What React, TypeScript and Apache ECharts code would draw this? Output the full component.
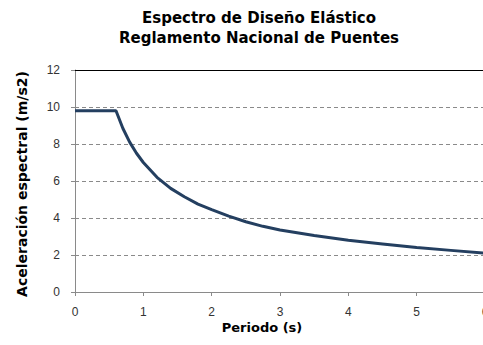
import React, { useEffect, useRef } from "react";
import * as echarts from "echarts";

const periods = [0, 0.6, 0.7, 0.8, 0.9, 1.0, 1.2, 1.4, 1.6, 1.8, 2.0, 2.25, 2.5, 2.75, 3.0, 3.5, 4.0, 4.5, 5.0, 5.5, 6.0];
const accel = [9.8, 9.8, 8.85, 8.1, 7.5, 7.0, 6.2, 5.6, 5.15, 4.75, 4.45, 4.1, 3.8, 3.55, 3.35, 3.05, 2.8, 2.6, 2.4, 2.25, 2.1];
const titleLines = ["Espectro de Diseño Elástico", "Reglamento Nacional de Puentes"];
const xName = "Periodo (s)";
const yName = "Aceleración espectral (m/s2)";

export default function App() {
  const ref = useRef<HTMLDivElement>(null);
  useEffect(() => {
    if (!ref.current) return;
    const chart = echarts.init(ref.current, null, { renderer: "svg" });
    const font = "'Liberation Sans', Arial, sans-serif";
    const wide = "'DejaVu Sans', sans-serif";
    chart.setOption({
      animation: false,
      backgroundColor: "#ffffff",
      grid: { left: 75, top: 70, right: -2, bottom: 53, outerBoundsMode: "none", containLabel: false },
      graphic: [
        {
          type: "text",
          x: 259,
          y: 18,
          style: {
            text: titleLines[0],
            font: `bold 15px ${wide}`,
            fill: "#000",
            align: "center",
            verticalAlign: "middle",
          },
        },
        {
          type: "text",
          x: 259,
          y: 38,
          style: {
            text: titleLines[1],
            font: `bold 15px ${wide}`,
            fill: "#000",
            align: "center",
            verticalAlign: "middle",
          },
        },
        {
          type: "text",
          x: 262,
          y: 327,
          style: {
            text: xName,
            font: `bold 13px ${wide}`,
            fill: "#000",
            align: "center",
            verticalAlign: "middle",
          },
        },
        {
          type: "text",
          x: 22,
          y: 184,
          rotation: Math.PI / 2,
          style: {
            text: yName,
            font: `bold 14px ${wide}`,
            fill: "#000",
            align: "center",
            verticalAlign: "middle",
          },
        },
      ],
      xAxis: [
        {
          type: "value",
          min: 0,
          max: 6,
          interval: 1,
          axisLine: { lineStyle: { color: "#8a8a8a", width: 1 } },
          axisTick: { show: true, length: 4, lineStyle: { color: "#8a8a8a" } },
          axisLabel: { margin: 14, fontSize: 12, color: "#333", fontFamily: font },
          splitLine: { show: false },
        },
        {
          type: "value",
          position: "top",
          min: 0,
          max: 6,
          axisLine: { show: true, lineStyle: { color: "#000", width: 1 } },
          axisTick: { show: false },
          axisLabel: { show: false },
          splitLine: { show: false },
        },
      ],
      yAxis: {
        type: "value",
        min: 0,
        max: 12,
        interval: 2,
        axisLine: { show: true, lineStyle: { color: "#8a8a8a", width: 1 } },
        axisTick: { show: true, length: 4, lineStyle: { color: "#8a8a8a" } },
        axisLabel: { margin: 15, fontSize: 12, color: "#333", fontFamily: font },
        splitLine: { show: true, lineStyle: { color: "#8a8a8a", type: [4, 3], width: 1 } },
      },
      series: [
        {
          type: "line",
          data: periods.map((p, i) => [p, accel[i]]),
          showSymbol: false,
          smooth: false,
          lineStyle: { color: "#243F60", width: 3 },
          clip: false,
        },
      ],
    });
    return () => chart.dispose();
  }, []);
  return <div ref={ref} style={{ width: 483, height: 345, position: "absolute", left: 0, top: 0 }} />;
}
